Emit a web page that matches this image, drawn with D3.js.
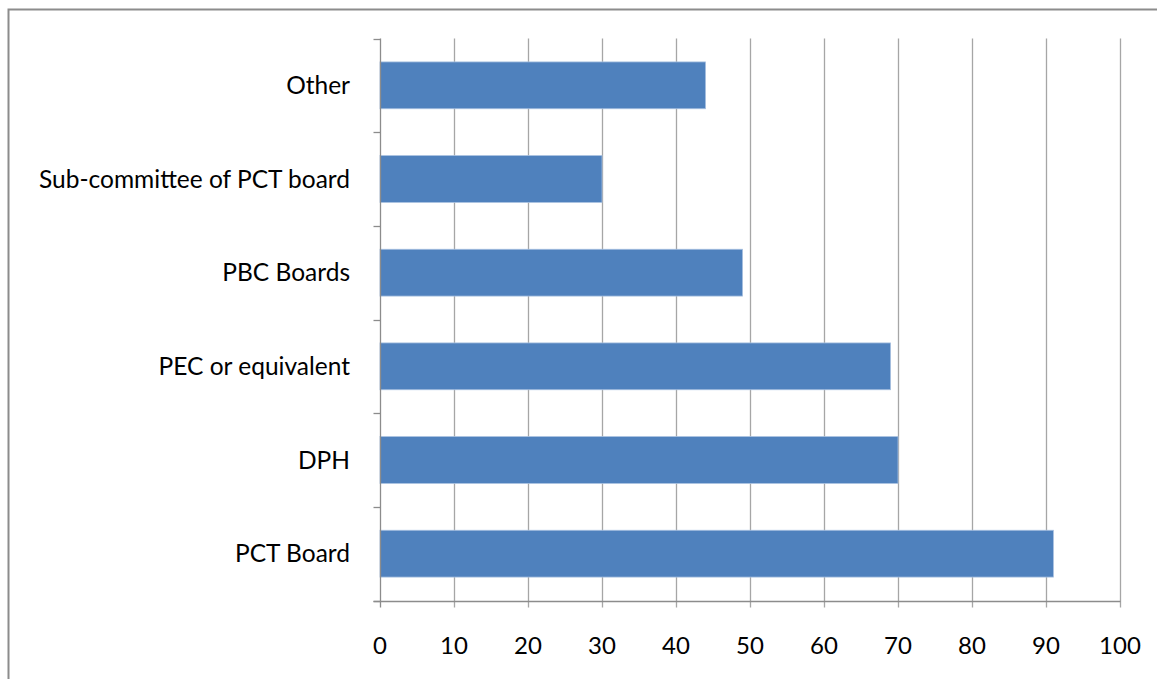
<!DOCTYPE html>
<html>
<head>
<meta charset="utf-8">
<script src="https://cdn.jsdelivr.net/npm/d3@7"></script>
<style>
  html, body { margin: 0; padding: 0; background: #fff; }
  svg { display: block; }
  text { font-family: Lato, "Open Sans", sans-serif; fill: #000; }
</style>
</head>
<body>
<script>
// Categories, listed bottom to top
const categories = ["PCT Board", "DPH", "PEC or equivalent", "PBC Boards", "Sub-committee of PCT board", "Other"];
const values = [91, 70, 69, 49, 30, 44];
const xTicks = [0, 10, 20, 30, 40, 50, 60, 70, 80, 90, 100];

const W = 1157, H = 679;
const margin = { left: 380, right: 37, top: 38.5, bottom: 78.5 };

const svg = d3.select("body").append("svg").attr("width", W).attr("height", H);

// outer chart frame
svg.append("rect")
  .attr("x", 8.5).attr("y", 9.5)
  .attr("width", W + 20).attr("height", H + 20)
  .attr("fill", "none").attr("stroke", "#8c8c8c").attr("stroke-width", 2);

const x = d3.scaleLinear().domain([0, 100]).range([margin.left, W - margin.right]);
const y = d3.scaleBand()
  .domain(categories.slice().reverse())
  .range([margin.top, H - margin.bottom])
  .paddingInner(0.5).paddingOuter(0.25);

const y0 = margin.top, y1 = H - margin.bottom;

// vertical gridlines with tick marks below the axis
svg.append("g").selectAll("line").data(xTicks.slice(1)).join("line")
  .attr("x1", d => Math.round(x(d)) + 0.5).attr("x2", d => Math.round(x(d)) + 0.5)
  .attr("y1", y0).attr("y2", y1 + 7)
  .attr("stroke", "#a6a6a6").attr("stroke-width", 1.3);

// bars
svg.append("g").selectAll("rect").data(categories).join("rect")
  .attr("x", x(0))
  .attr("y", d => y(d))
  .attr("width", (d, i) => x(values[i]) - x(0))
  .attr("height", y.bandwidth())
  .attr("fill", "#4f81bd")
  .attr("stroke", "#a9c1e0").attr("stroke-width", 0.8);

// category axis with boundary ticks
const yAxisX = Math.round(x(0)) + 0.5;
svg.append("line")
  .attr("x1", yAxisX).attr("x2", yAxisX).attr("y1", y0).attr("y2", y1 + 7)
  .attr("stroke", "#8c8c8c").attr("stroke-width", 1.3);
const bounds = d3.range(categories.length + 1).map(i => y0 + i * y.step());
svg.append("g").selectAll("line").data(bounds).join("line")
  .attr("x1", yAxisX - 7).attr("x2", yAxisX)
  .attr("y1", d => Math.round(d) + 0.5).attr("y2", d => Math.round(d) + 0.5)
  .attr("stroke", "#8c8c8c").attr("stroke-width", 1.3);

// value axis baseline
svg.append("line")
  .attr("x1", yAxisX - 7).attr("x2", Math.round(x(100)) + 0.5)
  .attr("y1", Math.round(y1) + 0.5).attr("y2", Math.round(y1) + 0.5)
  .attr("stroke", "#8c8c8c").attr("stroke-width", 1.3);

// category labels
svg.append("g").selectAll("text").data(categories).join("text")
  .attr("x", 350)
  .attr("y", d => y(d) + y.bandwidth() / 2)
  .attr("dy", "0.35em")
  .attr("text-anchor", "end")
  .attr("font-size", 24.5)
  .text(d => d);

// value tick labels
svg.append("g").selectAll("text").data(xTicks).join("text")
  .attr("x", d => x(d))
  .attr("y", 654)
  .attr("text-anchor", "middle")
  .attr("font-size", 24)
  .text(d => d);
</script>
</body>
</html>
